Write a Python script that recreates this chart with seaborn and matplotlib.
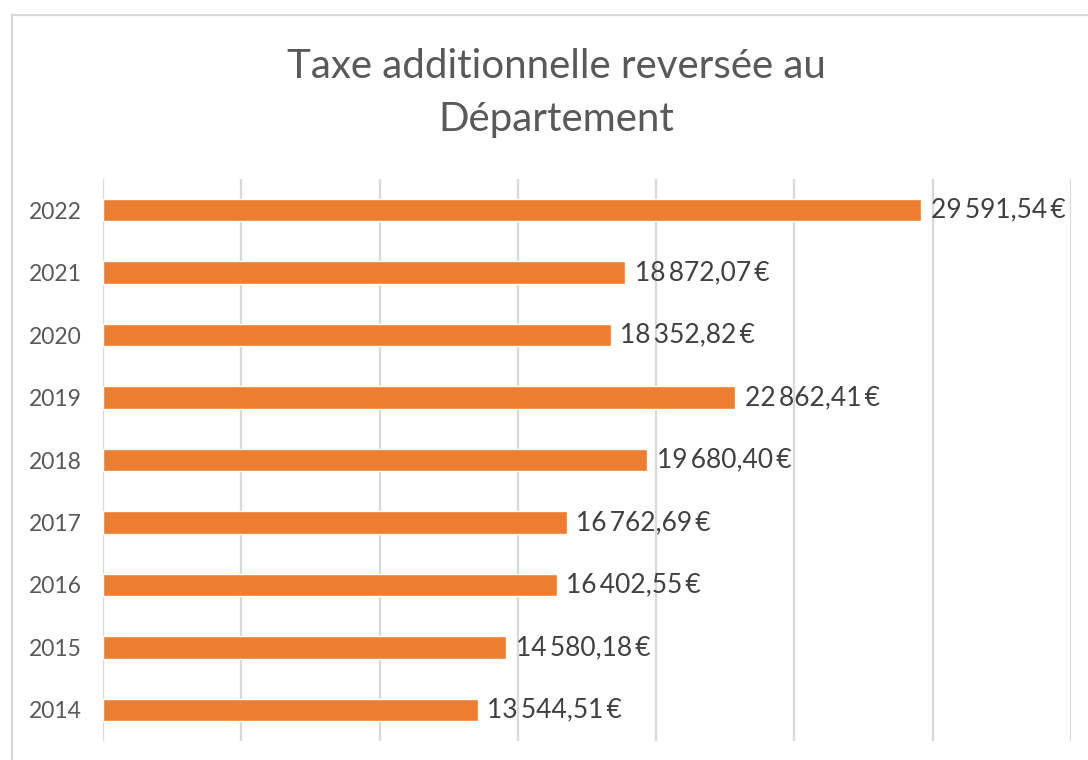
import matplotlib
matplotlib.use("Agg")
import matplotlib.pyplot as plt
import seaborn as sns
import pandas as pd
from matplotlib.patches import Rectangle

years = ["2022", "2021", "2020", "2019", "2018", "2017", "2016", "2015", "2014"]
values = [29591.54, 18872.07, 18352.82, 22862.41, 19680.40, 16762.69, 16402.55, 14580.18, 13544.51]
labels = ["29\u2009591,54\u2009€", "18\u2009872,07\u2009€", "18\u2009352,82\u2009€",
          "22\u2009862,41\u2009€", "19\u2009680,40\u2009€", "16\u2009762,69\u2009€",
          "16\u2009402,55\u2009€", "14\u2009580,18\u2009€", "13\u2009544,51\u2009€"]
title = "Taxe additionnelle reversée au\nDépartement"

sns.set_theme(style="white")
plt.rcParams['font.family'] = ['Lato', 'DejaVu Sans']

W, H = 1088, 760
fig = plt.figure(figsize=(W / 100, H / 100), dpi=100)
fig.patch.set_facecolor("white")
ax = fig.add_axes([103 / W, 1 - 741 / H, (1071 - 103) / W, (741 - 179) / H])

df = pd.DataFrame({"year": years, "value": values})
sns.barplot(data=df, x="value", y="year", order=years, orient="h",
            color="#ED7D31", saturation=1, width=0.36, ax=ax)

ax.set_xlim(0, 35000)
ax.set_xticks(range(0, 35001, 5000))
ax.xaxis.grid(True, color="#D9D9D9", linewidth=1.6)
ax.set_axisbelow(True)
ax.tick_params(axis="x", bottom=False, labelbottom=False)
ax.tick_params(axis="y", left=False, labelsize=16.5, labelcolor="#595959", pad=9.5)
for s in ax.spines.values():
    s.set_visible(False)
ax.set_xlabel("")
ax.set_ylabel("")

for i, (v, lab) in enumerate(zip(values, labels)):
    ax.annotate(lab, xy=(v, i), xytext=(7, 0), textcoords="offset points",
                va="center", ha="left", fontsize=19, color="#404040")

fig.text(556 / W, 1 - 93 / H, title, ha="center", va="center", fontsize=29,
         color="#595959", linespacing=1.5)

fig.patches.append(Rectangle((11.5 / W, -0.1), 1.2, 1 - 15 / H + 0.1,
                             transform=fig.transFigure, fill=False,
                             edgecolor="#D9D9D9", linewidth=1.6, figure=fig))

fig.savefig("out.png", dpi=100)
